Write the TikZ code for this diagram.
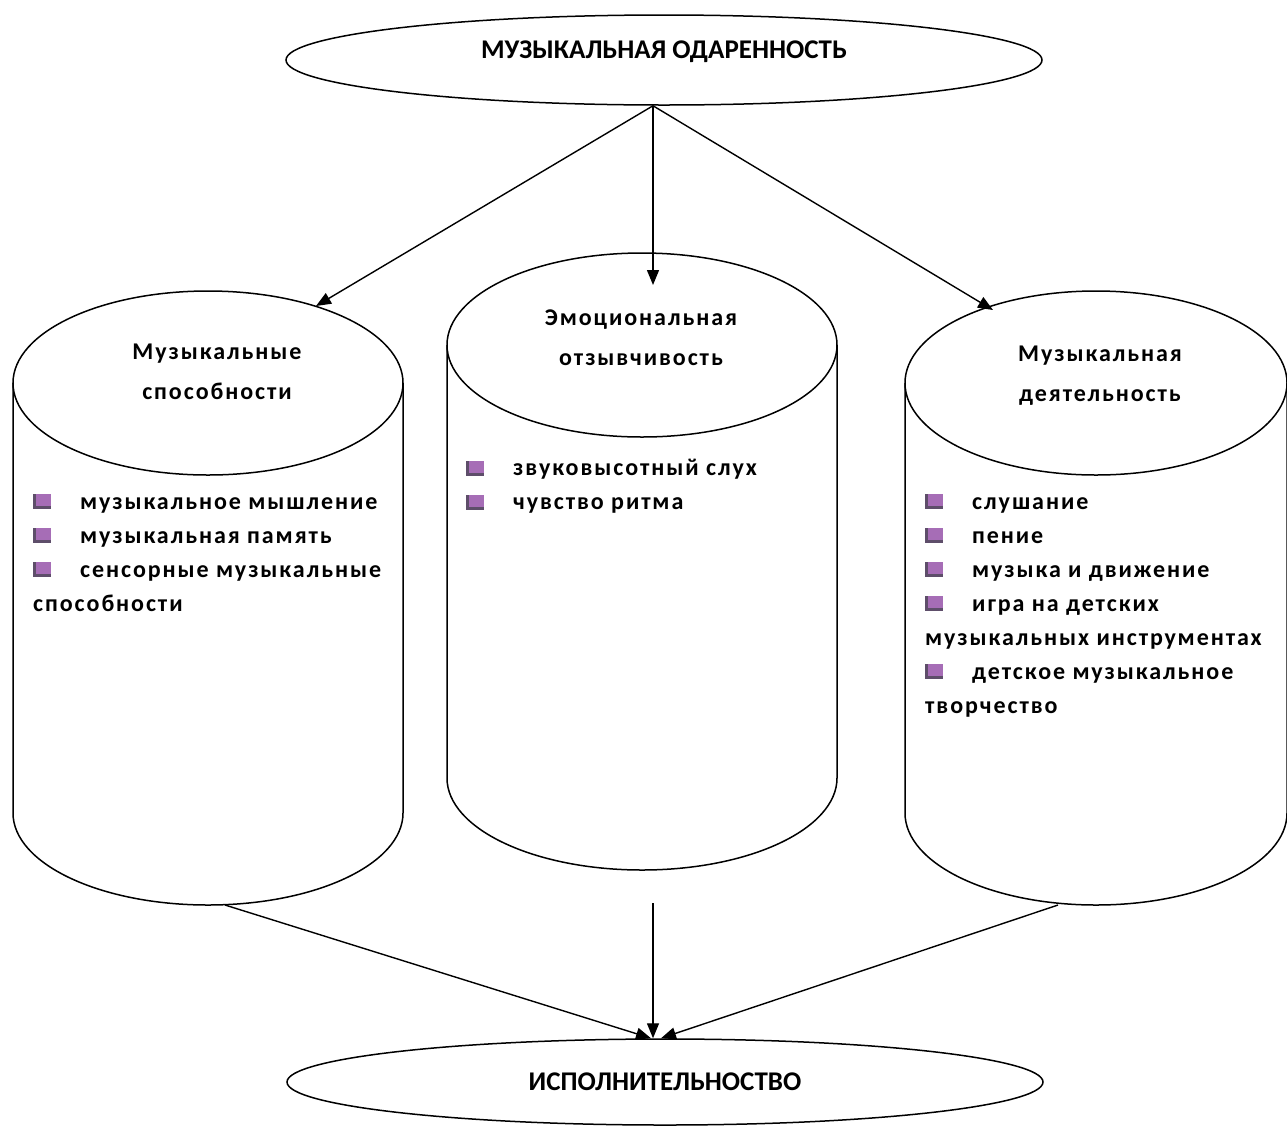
\documentclass[tikz,border=0pt]{standalone}
\usepackage{fontspec}
\setmainfont{Carlito}
\newfontfamily\spacedfont{Carlito}[LetterSpace=8]
\usetikzlibrary{arrows.meta,shapes.geometric,calc}

\definecolor{bulpurple}{HTML}{A66DB6}
\definecolor{bulgrey}{HTML}{5E4E6A}
\newcommand{\bulsq}{\textcolor{bulgrey}{\rule{18pt}{15pt}}\hspace{-15pt}\textcolor{bulpurple}{\rule[3pt]{15pt}{12pt}}\hspace{29pt}}

\begin{document}
\begin{tikzpicture}[
  x=1pt,y=-1pt,
  oval/.style={ellipse,draw=black,line width=1.5pt,minimum width=756pt,minimum height=90pt,
    inner sep=0pt,font=\fontsize{27}{30}\selectfont\bfseries},
  shp/.style={draw=black,line width=1.5pt},
  conn/.style={line width=1.4pt,-{Triangle[length=15pt,width=12pt]}},
  head/.style={align=center,inner sep=0pt,font=\fontsize{24}{40}\spacedfont\bfseries},
  items/.style={align=left,anchor=north west,inner sep=0pt,font=\fontsize{24}{34}\spacedfont\bfseries}
]
\useasboundingbox (0,0) rectangle (1287,1128);

% ---- top and bottom ovals ----
\node[oval,text depth=20pt] (gift) at (664,60) {МУЗЫКАЛЬНАЯ ОДАРЕННОСТЬ};
\node[oval,minimum height=86pt] (perf) at (665,1082) {ИСПОЛНИТЕЛЬНОСТВО};

% ---- left cylinder ----
\draw[shp] (208,383) ellipse[x radius=195pt,y radius=92pt];
\draw[shp] (13,383) -- (13,813) arc[start angle=180,end angle=360,x radius=195pt,y radius=92pt] -- (403,383);

% ---- middle cylinder ----
\draw[shp] (642,345) ellipse[x radius=195pt,y radius=92pt];
\draw[shp] (447,345) -- (447,778) arc[start angle=180,end angle=360,x radius=195pt,y radius=92pt] -- (837,345);

% ---- right cylinder ----
\draw[shp] (1096,383) ellipse[x radius=191pt,y radius=92pt];
\draw[shp] (905,383) -- (905,813) arc[start angle=180,end angle=360,x radius=191pt,y radius=92pt] -- (1287,383);

% ---- headings ----
\node[head] (abil) at (217,372) {Музыкальные\\способности};
\node[head] (emot) at (641,338) {Эмоциональная\\отзывчивость};
\node[head] (activ) at (1100,376) {Музыкальная\\деятельность};

% ---- item lists ----
\node[items] (abilist) at (33,494) {\bulsq музыкальное мышление\\
  \bulsq музыкальная память\\
  \bulsq сенсорные музыкальные\\
  способности};
\node[items] (emolist) at (466,459) {\bulsq звуковысотный слух\\
  \bulsq чувство ритма};
\node[items] (actlist) at (925,494) {\bulsq слушание\\
  \bulsq пение\\
  \bulsq музыка и движение\\
  \bulsq игра на детских\\
  музыкальных инструментах\\
  \bulsq детское музыкальное\\
  творчество};

% ---- connectors ----
\coordinate (lhit) at (316,306);
\coordinate (mhit) at (653,285);
\coordinate (rhit) at (993,310);
\coordinate (fork) at (gift.south -| mhit);
\draw[conn] (fork) -- (lhit);
\draw[conn] (fork) -- (mhit);
\draw[conn] (fork) -- (rhit);

\coordinate (lfoot) at (225,905);
\coordinate (mfoot) at (653,903);
\coordinate (rfoot) at (1058,905);
\coordinate (ljoin) at ($(perf.north)+(-14,0)$);
\coordinate (mjoin) at (perf.north -| mfoot);
\coordinate (rjoin) at ($(perf.north)+(-4,0)$);
\draw[conn] (lfoot) -- (ljoin);
\draw[conn] (mfoot) -- (mjoin);
\draw[conn] (rfoot) -- (rjoin);

\end{tikzpicture}
\end{document}
